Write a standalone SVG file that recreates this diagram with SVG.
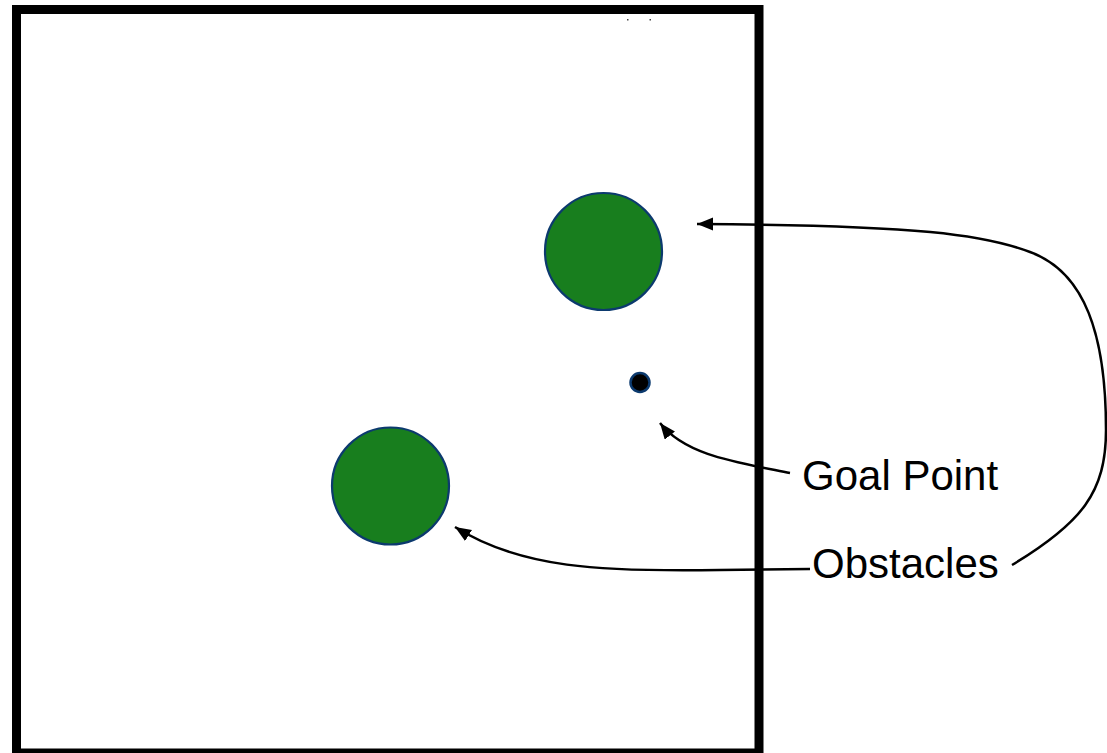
<svg xmlns="http://www.w3.org/2000/svg" width="1107" height="753" viewBox="0 0 1107 753">
<defs>
<style>
.obst{fill:#187e1e;stroke:#0c3a6e;stroke-width:2.2}
.goal{fill:#000;stroke:#0c3a6e;stroke-width:2.5}
.conn{fill:none;stroke:#000;stroke-width:2.5}
.lbl{font-family:"Liberation Sans",Arial,sans-serif;font-size:42px;fill:#000}
</style>
<marker id="ah" markerUnits="userSpaceOnUse" markerWidth="18" markerHeight="14" refX="16" refY="6.5" orient="auto">
<path d="M0,0 L16,6.5 L0,13 z" fill="#000"/>
</marker>
</defs>
<rect x="0" y="0" width="1107" height="753" fill="#fff"/>
<g id="frame">
<rect x="16.5" y="9.5" width="742.5" height="743.5" fill="none" stroke="#000" stroke-width="9"/>
<rect x="627" y="19" width="1.5" height="1.5" fill="#444"/>
<rect x="649.5" y="19" width="1.5" height="1.5" fill="#444"/>
</g>
<g id="obstacle-upper"><circle class="obst" cx="603.5" cy="251.5" r="58.5"/></g>
<g id="obstacle-lower"><circle class="obst" cx="390.5" cy="486" r="58.5"/></g>
<g id="goal-point"><circle class="goal" cx="640" cy="382.5" r="9.5"/></g>
<g id="label-goal"><text class="lbl" x="802" y="490">Goal Point</text></g>
<g id="label-obstacles"><text class="lbl" x="812" y="578">Obstacles</text></g>
<g id="connectors">
<path class="conn" marker-end="url(#ah)" d="M790,473 C735,462 685,455 660,423"/>
<path class="conn" marker-end="url(#ah)" d="M810,569 L720,570 C600,572 520,568 455,527"/>
<path class="conn" marker-end="url(#ah)" d="M1012,565 C1082,523 1106,492 1106,430 C1106,335 1085,272 1030,252 C985,235 920,225 697,224"/>
</g>
</svg>
